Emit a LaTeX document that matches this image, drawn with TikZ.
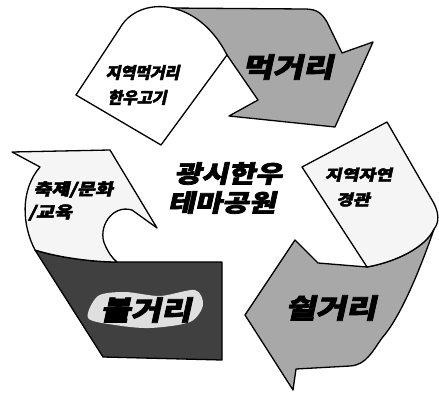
\documentclass[tikz,border=0pt]{standalone}
\usepackage{fontspec}
\newfontfamily\krfont[FakeBold=3]{Noto Sans CJK KR}
\newfontfamily\krwide[FakeBold=3,FakeStretch=1.22]{Noto Sans CJK KR}

\begin{document}
\begin{tikzpicture}[x=1pt,y=-1pt]
\tikzset{piece/.style={draw, line width=1.3pt, line join=round},
  smalltag/.style={font=\krfont\bfseries\fontsize{16}{25}\selectfont, align=center, inner sep=0pt, xslant=0.22},
  widetag/.style={font=\krwide\bfseries\fontsize{15}{25}\selectfont, align=center, inner sep=0pt, xslant=0.22},
  bigtag/.style={font=\krwide\bfseries\fontsize{27}{30}\selectfont, inner sep=0pt, xslant=0.22}}
\useasboundingbox (0,0) rectangle (439,393);
% top arrow
\draw[piece, fill=gray!68] (168,8) -- (305,9) .. controls (318,9) and (322,14) .. (327,22) -- (342,53) -- (373,42) -- (335,127) -- (229,116) -- (258,100) -- (227,55) -- cycle;
\draw[piece, fill=white] (76,95) -- (120,28) .. controls (138,-4) and (197,-4) .. (227,55) -- (161,145) -- cycle;
% right arrow
\draw[piece, fill=gray!68] (367,267) .. controls (395,262) and (425,248) .. (434,229) .. controls (420,270) and (400,318) .. (382,338) .. controls (372,352) and (366,365) .. (350,366) -- (296,369) -- (293,390) -- (245,315) -- (295,240) -- (318,263) -- cycle;
\draw[piece, fill=gray!8] (302,167) -- (387,122) -- (432,200) .. controls (440,213) and (439,223) .. (434,229) .. controls (425,248) and (395,262) .. (367,267) -- cycle;
% left arrow
\draw[piece, fill=black!75] (35,250) .. controls (60,258) and (95,262) .. (117,262) -- (222,262) -- (222,360) -- (103,357) -- cycle;
\draw[piece, fill=gray!8] (12,152) -- (110,150) -- (157,228) -- (132,210) .. controls (112,204) and (97,228) .. (105,245) .. controls (108,252) and (112,258) .. (117,262) .. controls (95,262) and (60,258) .. (35,250) .. controls (22,225) and (20,190) .. (40,167) -- cycle;
\fill[gray!25] plot[smooth cycle] coordinates {(88,318) (98,296) (125,292) (160,296) (195,290) (203,305) (190,322) (150,328) (115,325)};

\node[smalltag] (mukText) at (141,85) {지역먹거리\\한우고기};
\node[bigtag] (muk) at (290,67) {먹거리};
\node[widetag] (jayeon) at (357,187) {지역자연\\경관};
\node[bigtag] (swil) at (333,308) {쉴거리};
\node[bigtag] (bol) at (148,310) {볼거리};
\node[widetag, font=\krwide\bfseries\fontsize{16}{23}\selectfont, align=left, anchor=west] (chukje) at (32,201) {축제/문화\\/교육};
\node[bigtag, font=\krwide\bfseries\fontsize{24}{29}\selectfont, align=center] (title) at (227,188) {광시한우\\테마공원};
\end{tikzpicture}
\end{document}
